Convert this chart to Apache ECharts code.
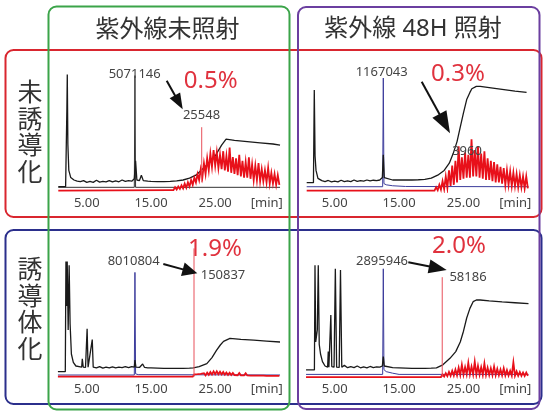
<!DOCTYPE html>
<html>
<head>
<meta charset="utf-8">
<script src="https://cdn.jsdelivr.net/npm/echarts@6/dist/echarts.min.js"></script>
<style>
html,body{margin:0;padding:0;background:#fff;}
#main{width:543px;height:412px;}
</style>
</head>
<body>
<div id="main"></div>
<script>
// 列・行の見出し
var colTitles = ['紫外線未照射', '紫外線 48H 照射'];
var rowTitles = ['未誘導化', '誘導体化'];
// x軸の目盛り (min)
var tickValues = [5, 15, 25];
var tickText = ['5.00', '15.00', '25.00'];
// ピーク面積と比率
var peakMain = ['5071146', '1167043', '8010804', '2895946'];
var peakSub = ['25548', '3960', '150837', '58186'];
var ratio = ['0.5%', '0.3%', '1.9%', '2.0%'];

// 赤トレースのノイズ部分の時間
var noiseTimes = [18,18.25,18.5,18.75,19,19.25,19.5,19.75,20,20.25,20.5,20.75,21,21.25,21.5,21.75,22,22.25,22.5,22.75,
  23,23.25,23.5,23.75,24,24.25,24.5,24.75,25,25.25,25.5,25.75,26,26.25,26.5,26.75,27,27.25,27.5,27.75,
  28,28.25,28.5,28.75,29,29.25,29.5,29.75,30,30.25,30.5,30.75,31,31.25,31.5,31.75,32,32.25,32.5,32.75,
  33,33.25,33.5,33.75,34,34.25,34.5,34.75,35];

// 左上: 未誘導化 / 未照射
var p1Black = [[0.56,4.4],[1.7,4.4],[1.9,70],[1.96,98],[2.05,40],[2.2,18],[2.5,12],[3,10],[3.5,9],[4,8.6],[4.5,9.5],[5,8],
  [5.5,8.8],[6,8],[6.5,9.8],[7,8.2],[7.5,8.8],[8,8.4],[8.5,9.5],[9,8.4],[9.5,9.2],[10,8.5],[10.5,10],[11,8.8],[11.5,9.5],
  [12,9],[12.4,11],[12.6,26],[12.8,10],[13.2,9.5],[13.5,14],[13.8,9.5],[14.5,9],[15,8.8],[16,8.6],[17,8.6],[18,8.8],
  [19,9.2],[20,10],[21,11.5],[22,14],[23,19],[24,24],[25,30],[26,39],[26.7,44],[28,43],[30,42],[32,41],[34,40],[35.1,39]];
var p1Trace = [[0.56,3.9],[12.4,3.9],[12.5,97],[12.6,3.9],[35.1,3.9]];
var p1Noise = [1.5,3,1.5,4,2,4.5,2.5,5.5,3,7, 3.5,8,4.5,10,6,12,8,15,10,19, 12,24,15,28,18,32,21,35,22,33,
  20,31,19,34,18,30,17,37,16,29, 15,28,14,31,13,26,12,25,12,29, 11,23,10,22,10,24,9,19,9,18, 8,20,7,16,7,15,6,14,6];
var p1Spike = [[22.9,8],[22.9,54]];

// 右上: 未誘導化 / 48H照射
var p2Black = [[0.65,7.8],[1.7,7.8],[1.83,85],[1.95,30],[2.1,18],[2.4,11.4],[3,9.5],[3.5,8.6],[4,9.6],[4.5,8.5],[5,9],
  [5.5,8.4],[6,9.8],[6.5,8.6],[7,9.2],[7.5,8.6],[8,10],[8.5,8.8],[9,9.4],[9.5,9],[10,10],[10.5,9.2],[11,9.8],[11.5,9.4],
  [12,10],[12.4,12],[12.55,31],[12.7,12],[13,10.5],[14,10],[15,10],[16,10],[17,10],[18,10.2],[19,10.5],[20,11.5],[21,14],
  [22,18],[22.8,24],[23.4,32],[24,42],[24.5,54],[25,66],[25.5,77],[26,83],[26.3,86],[27,88],[27.6,88],[29,87],[31,85.5],
  [33,84],[34.8,83]];
var p2Trace = [[0.65,4.4],[12.45,4.4],[12.55,95],[12.65,7],[13,6],[14,5.2],[16,4.6],[35.1,4.4]];
var p2Noise = [1.1,1.1,1.1,1.1,1.1,1.5,1.1,1.8,1.1,2.5, 1.2,4,1.5,6,2,9,2.5,13,3.5,18, 5,22,6,26,8,38,10,29,11,33,
  12,31,12,44,13,35,13,38,12,32, 11,34,10,28,10,26,9,25,8,23, 8,21,7,20,6,18,6,17,5,16, 5,15,4,14,4,13,3,13,3];
var p2Spike = [];

// 左下: 誘導体化 / 未照射
var p3Black = [[0.5,5.3],[1.65,5.3],[1.75,97],[1.85,60],[1.95,97],[2.1,40],[2.25,94],[2.4,45],[2.6,20],[2.9,13],[3.3,10],
  [3.8,9.5],[4.2,9],[4.3,16],[4.45,9],[4.8,8.8],[5.05,41],[5.2,9],[5.5,8.8],[5.85,32],[6,9],[6.5,8.4],[7,9.5],[7.5,8.2],
  [8,9],[8.5,8.4],[9,9.2],[9.5,8.4],[10,9],[10.5,8.6],[11,9.4],[11.5,8.6],[12,9.5],[12.4,9],[12.5,15],[12.65,9],[13.2,8.8],
  [13.7,11.7],[14,8.8],[14.5,8.5],[15,8.4],[16,8.2],[17,8],[18,8],[19,8],[20,8],[21,8.2],[21.6,8.5],[22.5,9.5],[23.7,12],
  [24.5,17],[25.2,23],[25.8,27.5],[26.3,30.5],[27.3,33],[29,32.2],[31,31.5],[33,30.8],[35.1,30]];
var p3Trace = [[0.5,2.5],[12.4,2.5],[12.5,88],[12.6,3.5],[13,2.8],[35.1,2.5]];
var p3Noise = [1.1,1.1,1.1,1.1,1.1,1.1,1.1,1.1,1.1,1.1, 1.1,1.1,1.1,1.1,1.1,3,1.6,3.2,1.8,3.5,
  2,4,2.2,4.5,2.6,5,3,5.5,3.2,5.6, 3.2,5.2,3,5,2.8,4.6,2.6,4.4,2.5,4.2, 2.4,4,2.3,4.1,2.2,3.8,2.2,3.9,2.1,3.7,
  2,3.6,2,3.5,2,3.6,1.9,3.4,1.9,3.3, 1.8,3.4,1.8,3.2,1.8,3.1,1.7,3.2,1.7];
var p3Spike = [[21.7,1.1],[21.7,108]];

// 右下: 誘導体化 / 48H照射
var p4Black = [[0.55,6.7],[1.85,6.7],[1.94,94],[2.05,30],[2.3,40],[2.45,94],[2.6,28],[2.8,20],[3.1,13.6],[3.5,10],[3.9,9],
  [4,22],[4.1,9],[4.3,9.5],[4.4,52.5],[4.55,9.5],[4.9,9],[5.1,91],[5.3,9],[5.7,8.8],[5.9,90],[6.1,9],[6.5,10.5],[7,8.6],
  [7.5,9.4],[8,8.6],[8.5,10],[9,8.5],[9.5,9.2],[10,8.5],[10.5,9.6],[11,8.6],[11.5,9.2],[12,9],[12.4,10],[12.55,17.8],
  [12.7,10],[13,9],[14,8.6],[15,8.4],[16,8.2],[17,8],[18,8],[19,8],[20,8.2],[20.8,8.5],[21.8,11],[22.9,16.4],[23.8,22],
  [24.5,30],[25,39],[25.5,50],[26,58],[26.5,63.6],[27,65],[27.6,65],[29,64.2],[31,63.4],[33,62.7],[35.1,62]];
var p4Trace = [[0.55,3],[12.45,3],[12.55,91],[12.65,7],[13,5.3],[14,4],[15,3],[35.1,3]];
var p4Noise = [0.8,0.8,0.8,0.8,0.8,0.8,0.8,0.8,0.8,0.8, 0.8,0.8,0.8,0.8,0.8,3,1.2,4,1.5,5,
  1.8,6,2,7,2.2,8.5,2.5,11,2.8,9, 3,12.5,3,9.5,3,13.5,2.8,10,2.8,9, 2.6,12,2.6,8.5,2.5,8,2.4,9.5,2.3,7.5,
  2.2,7,2.2,8,2.1,6.5,2,6,2,13, 1.9,5.5,1.8,5,1.8,4.5,1.7,4.5,1.7];
var p4Spike = [[21.7,0.8],[21.7,84]];

var redStart = [[0.56,1.1],[0.65,1.1],[0.5,1.1],[0.55,0.8]];

var myChart = echarts.init(document.getElementById('main'));

function withNoise(start, noise) {
  return [start].concat(noiseTimes.map(function (t, i) { return [t, noise[i]]; }));
}

var panels = [
  {black: p1Black, trace: p1Trace, traceColor: '#333333', red: withNoise(redStart[0], p1Noise), spike: p1Spike, left: 54.7, w: 231.1, top: 60},
  {black: p2Black, trace: p2Trace, traceColor: '#3c3c9c', red: withNoise(redStart[1], p2Noise), spike: p2Spike, left: 302.5, w: 231.8, top: 60},
  {black: p3Black, trace: p3Trace, traceColor: '#3c3c9c', red: withNoise(redStart[2], p3Noise), spike: p3Spike, left: 54.7, w: 231.1, top: 246},
  {black: p4Black, trace: p4Trace, traceColor: '#3c3c9c', red: withNoise(redStart[3], p4Noise), spike: p4Spike, left: 302.5, w: 231.8, top: 246}
];

var grids = [], xAxes = [], yAxes = [], series = [];
panels.forEach(function (p, i) {
  grids.push({left: p.left, top: p.top, width: p.w, height: 132});
  xAxes.push({
    gridIndex: i, type: 'value', min: 0, max: 36, interval: 5,
    axisLine: {show: false}, axisTick: {show: false}, splitLine: {show: false},
    axisLabel: {
      margin: 5, color: '#444', fontSize: 13, fontFamily: 'Noto Sans',
      formatter: function (v) {
        var k = tickValues.indexOf(v);
        return k >= 0 ? tickText[k] : '';
      }
    },
    name: '[min]', nameLocation: 'end', nameGap: -19,
    nameTextStyle: {color: '#444', fontSize: 13, fontFamily: 'Noto Sans', align: 'center', verticalAlign: 'top', padding: [5, 0, 0, 0]}
  });
  yAxes.push({gridIndex: i, type: 'value', min: 0, max: 110, show: false});
  series.push({type: 'line', xAxisIndex: i, yAxisIndex: i, data: p.trace, symbol: 'none', lineStyle: {color: p.traceColor, width: 1}, z: 2});
  series.push({type: 'line', xAxisIndex: i, yAxisIndex: i, data: p.black, symbol: 'none', lineStyle: {color: '#1a1a1a', width: 1.3}, z: 3});
  series.push({type: 'line', xAxisIndex: i, yAxisIndex: i, data: p.red, symbol: 'none', lineStyle: {color: '#e8101a', width: 1.8, join: 'miter'}, z: 4});
  if (p.spike.length) {
    series.push({type: 'line', xAxisIndex: i, yAxisIndex: i, data: p.spike, symbol: 'none', lineStyle: {color: '#e8505a', width: 1}, z: 4});
  }
});

function txt(x, y, s, size, color, extra) {
  var st = {text: s, x: x, y: y, fill: color, font: size + 'px "Noto Sans", "Noto Sans CJK JP"', align: 'center', verticalAlign: 'middle'};
  if (extra) for (var k in extra) st[k] = extra[k];
  return {type: 'text', z: 10, style: st};
}
function box(x, y, w, h, color) {
  return {type: 'rect', z: 1, shape: {x: x, y: y, width: w, height: h, r: 8}, style: {fill: 'none', stroke: color, lineWidth: 2}};
}
function arrow(x1, y1, x2, y2, L, W) {
  var dx = x2 - x1, dy = y2 - y1, len = Math.sqrt(dx * dx + dy * dy);
  var ux = dx / len, uy = dy / len;
  var bx = x2 - ux * L, by = y2 - uy * L;
  return [
    {type: 'line', z: 10, shape: {x1: x1, y1: y1, x2: bx + ux * 2, y2: by + uy * 2}, style: {stroke: '#111', lineWidth: 2}},
    {type: 'polygon', z: 10, shape: {points: [[x2, y2], [bx - uy * W, by + ux * W], [bx + uy * W, by - ux * W]]}, style: {fill: '#111'}}
  ];
}

var red = '#e0323e', grey = '#444';
var graphic = [
  box(5.5, 50, 536, 167, '#d9262f'),
  box(5.5, 230, 536, 174, '#2b2f8c'),
  box(48.5, 6.5, 241, 403, '#3ba449'),
  box(298, 7, 241.5, 402, '#6b3fa0'),
  txt(167.5, 30, colTitles[0], 24, '#333'),
  txt(413, 29, colTitles[1], 24, '#333'),
  txt(30, 134, rowTitles[0].split('').join('\n'), 25, '#333', {lineHeight: 26.7}),
  txt(30, 311, rowTitles[1].split('').join('\n'), 25, '#333', {lineHeight: 26.7}),
  txt(134.7, 74, peakMain[0], 13, grey),
  txt(381.7, 72.5, peakMain[1], 13, grey),
  txt(133.7, 261, peakMain[2], 13, grey),
  txt(382, 261.5, peakMain[3], 13, grey),
  txt(201.5, 115, peakSub[0], 13, grey),
  txt(467, 151, peakSub[1], 13, grey),
  txt(223, 275, peakSub[2], 13, grey),
  txt(468, 277.5, peakSub[3], 13, grey),
  txt(210.7, 81, ratio[0], 24, red),
  txt(458, 74, ratio[1], 24, red),
  txt(215, 249, ratio[2], 24, red),
  txt(459, 246.5, ratio[3], 24, red)
].concat(
  arrow(166.7, 80.7, 182.7, 109.3, 16, 6),
  arrow(421.7, 81.7, 450, 133.3, 22, 8),
  arrow(163.3, 264, 197.3, 273.3, 15, 7),
  arrow(408.3, 262.3, 446.7, 270, 18, 7)
);

var option = {
  animation: false,
  backgroundColor: '#fff',
  grid: grids,
  xAxis: xAxes,
  yAxis: yAxes,
  series: series,
  graphic: graphic
};
myChart.setOption(option);
</script>
</body>
</html>
